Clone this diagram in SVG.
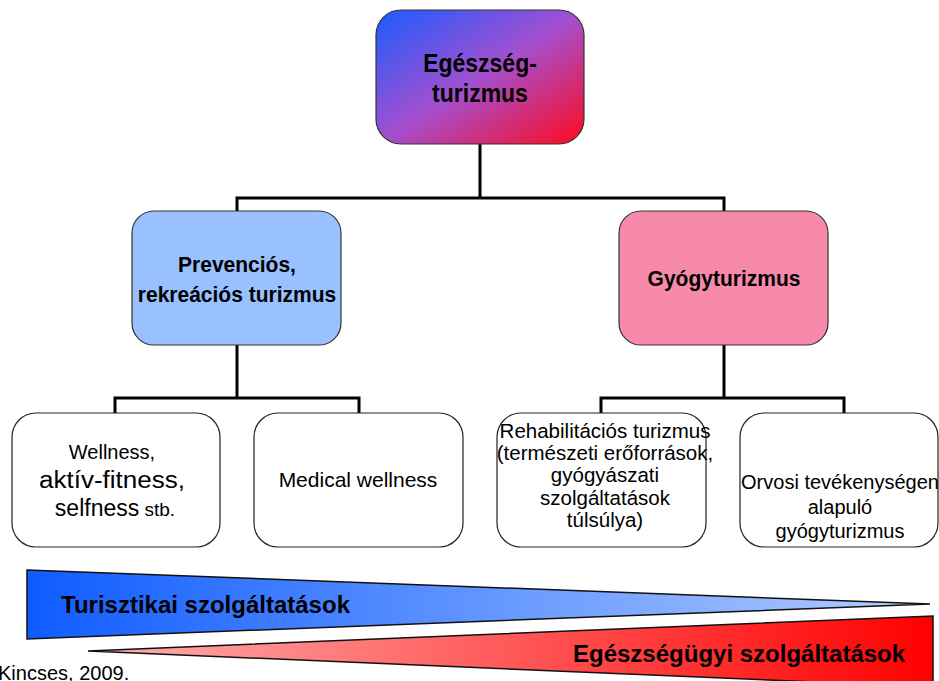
<svg xmlns="http://www.w3.org/2000/svg" width="939" height="681" viewBox="0 0 939 681">
<style>
.box{stroke:#333;stroke-width:1.2}
.wbox{fill:#fff;stroke:#222;stroke-width:1.2}
.b{font-family:"Liberation Sans",Arial,sans-serif;font-weight:bold;fill:#000;text-anchor:middle}
.r{font-family:"Liberation Sans",Arial,sans-serif;fill:#000;text-anchor:middle}
.conn{fill:none;stroke:#000;stroke-width:3}
</style>
<defs>
<linearGradient id="gTop" x1="0" y1="0" x2="1" y2="1">
<stop offset="0" stop-color="#1a5cff"/>
<stop offset="0.5" stop-color="#a44fcf"/>
<stop offset="1" stop-color="#ff0a1e"/>
</linearGradient>
<linearGradient id="gBlue" gradientUnits="userSpaceOnUse" x1="27" y1="0" x2="930" y2="0">
<stop offset="0" stop-color="#0f5cff"/>
<stop offset="1" stop-color="#b4ceff"/>
</linearGradient>
<linearGradient id="gRed" gradientUnits="userSpaceOnUse" x1="88" y1="0" x2="933" y2="0">
<stop offset="0" stop-color="#ffb0b0"/>
<stop offset="1" stop-color="#ff0000"/>
</linearGradient>
</defs>
<rect width="939" height="681" fill="#fff"/>
<g id="connectors">
<path class="conn" d="M480,144 V198"/>
<path class="conn" d="M237,211 V198 H724 V211"/>
<path class="conn" d="M237,345 V398"/>
<path class="conn" d="M115,413 V398 H359 V413"/>
<path class="conn" d="M724,345 V398"/>
<path class="conn" d="M601,413 V398 H844 V413"/>
</g>
<g id="egeszsegturizmus">
<rect class="box" x="376" y="10" width="208" height="134" rx="25" fill="url(#gTop)"/>
<text class="b" transform="translate(480,72) scale(1,1.13)" font-size="23">Egészség-</text>
<text class="b" transform="translate(480,102) scale(1,1.13)" font-size="23">turizmus</text>
</g>
<g id="prevencios">
<rect class="box" x="132" y="211" width="209" height="134" rx="22" fill="#99c0ff"/>
<text class="b" transform="translate(237,272) scale(1,1.06)" font-size="21">Prevenciós,</text>
<text class="b" transform="translate(237,302) scale(1,1.06)" font-size="21">rekreációs turizmus</text>
</g>
<g id="gyogyturizmus">
<rect class="box" x="619" y="211" width="209" height="134" rx="22" fill="#f78aaa"/>
<text class="b" transform="translate(724,286) scale(1,1.06)" font-size="21">Gyógyturizmus</text>
</g>
<g id="wellness">
<rect class="wbox" x="12" y="413" width="208" height="134" rx="24"/>
<text class="r" x="112" y="459" font-size="20">Wellness,</text>
<text class="r" x="112" y="488" font-size="23" textLength="146" lengthAdjust="spacingAndGlyphs">aktív-fitness,</text>
<text class="r" x="115" y="516"><tspan font-size="23">selfness</tspan><tspan font-size="19"> stb.</tspan></text>
</g>
<g id="medical-wellness">
<rect class="wbox" x="254" y="413" width="209" height="134" rx="24"/>
<text class="r" x="358" y="487" font-size="21">Medical wellness</text>
</g>
<g id="rehabilitacios">
<rect class="wbox" x="497" y="413" width="209" height="134" rx="24"/>
<text class="r" x="605" y="438" font-size="20.5">Rehabilitációs turizmus</text>
<text class="r" x="605" y="460" font-size="20.5">(természeti erőforrások,</text>
<text class="r" x="605" y="482" font-size="20.5">gyógyászati</text>
<text class="r" x="605" y="505" font-size="20.5">szolgáltatások</text>
<text class="r" x="605" y="527" font-size="20.5">túlsúlya)</text>
</g>
<g id="orvosi">
<rect class="wbox" x="740" y="413" width="198" height="134" rx="24"/>
<text class="r" x="840" y="489" font-size="20">Orvosi tevékenységen</text>
<text class="r" x="840" y="514" font-size="20">alapuló</text>
<text class="r" x="840" y="538" font-size="20">gyógyturizmus</text>
</g>
<g id="turisztikai">
<polygon points="27,570 930,604 27,639" fill="url(#gBlue)" stroke="#111" stroke-width="1.5"/>
<text class="b" x="61" y="613" font-size="24" style="text-anchor:start">Turisztikai szolgáltatások</text>
</g>
<g id="egeszsegugyi">
<polygon points="88,651 933,616 933,687" fill="url(#gRed)" stroke="#111" stroke-width="1.5"/>
<text class="b" x="573" y="662" font-size="24" style="text-anchor:start">Egészségügyi szolgáltatások</text>
</g>
<text class="r" x="-2" y="680" font-size="20" style="text-anchor:start">Kincses, 2009.</text>
</svg>
